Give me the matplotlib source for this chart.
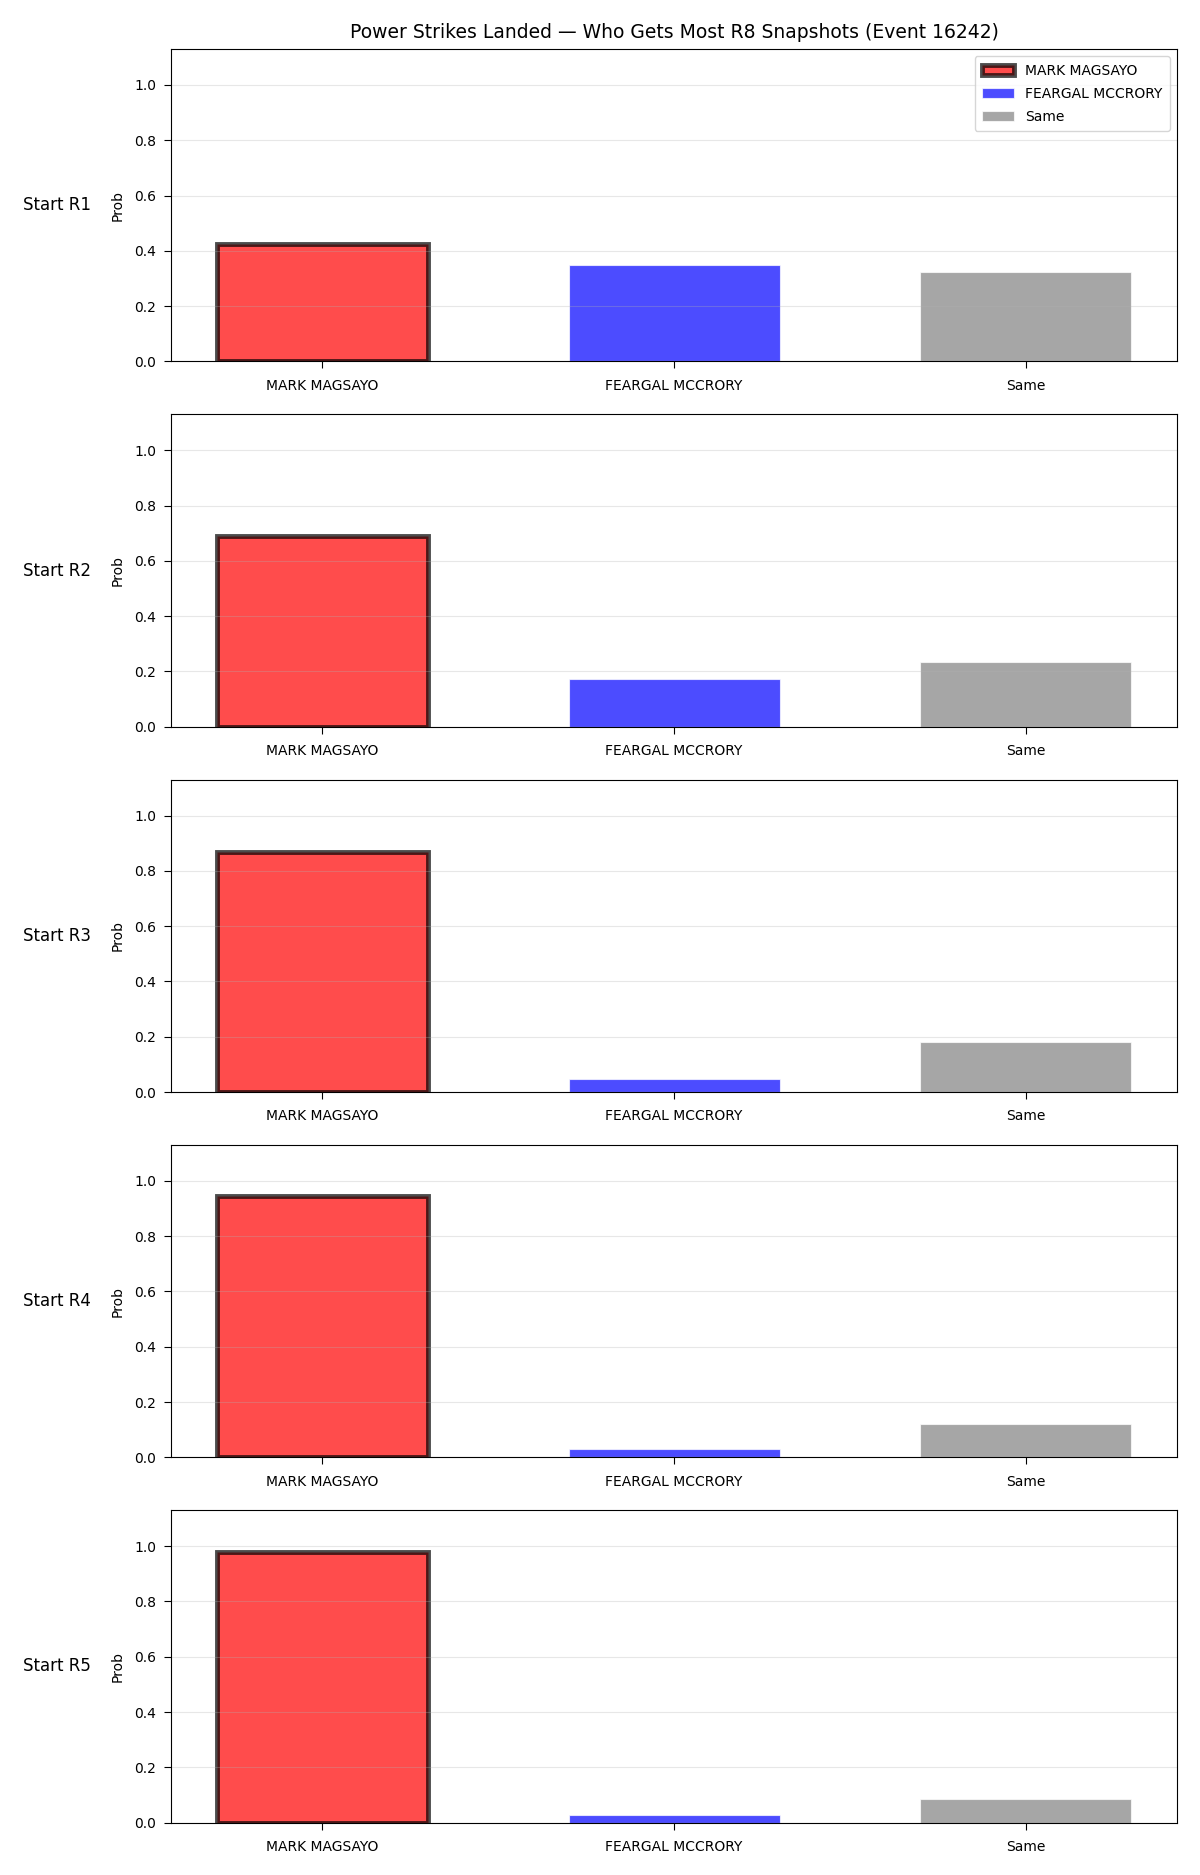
import matplotlib
matplotlib.use("Agg")
import matplotlib.pyplot as plt

title = "Power Strikes Landed — Who Gets Most R8 Snapshots (Event 16242)"
categories = ["MARK MAGSAYO", "FEARGAL MCCRORY", "Same"]
row_labels = ["Start R1", "Start R2", "Start R3", "Start R4", "Start R5"]
magsayo = [0.425, 0.690, 0.868, 0.945, 0.978]
mccrory = [0.347, 0.173, 0.047, 0.029, 0.027]
same = [0.323, 0.235, 0.182, 0.119, 0.087]

colors = ["red", "blue", "gray"]

fig, axes = plt.subplots(5, 1, figsize=(12, 18.75), dpi=100)
fig.subplots_adjust(left=0.1425, right=0.981, top=0.9739, bottom=0.0279, hspace=0.169)

for i, ax in enumerate(axes):
    vals = [magsayo[i], mccrory[i], same[i]]
    x = list(range(len(categories)))
    bars = ax.bar(x, vals, width=0.6, color=colors, alpha=0.7, edgecolor="white", linewidth=0.8)
    bars[0].set_edgecolor("black")
    bars[0].set_linewidth(3.5)
    if i == 0:
        for b, lab in zip(bars, categories):
            b.set_label(lab)
        ax.legend(loc="upper right", fontsize=10, handlelength=2.3,
                  labelspacing=0.65, borderpad=0.55)
        ax.set_title(title, fontsize=13.5, pad=8)
    ax.set_xticks(x)
    ax.set_xticklabels(categories, fontsize=10)
    ax.set_ylim(0, 1.13)
    ax.set_yticks([0.0, 0.2, 0.4, 0.6, 0.8, 1.0])
    ax.tick_params(axis="y", length=5, pad=5.5)
    ax.tick_params(axis="x", length=5, pad=7.5)
    ax.set_ylabel("Prob", fontsize=10, labelpad=7)
    ax.grid(axis="y", alpha=0.3)
    ax.text(-0.0795, 0.5, row_labels[i], transform=ax.transAxes, ha="right", va="center", fontsize=12)

fig.savefig("out.png", dpi=100)
